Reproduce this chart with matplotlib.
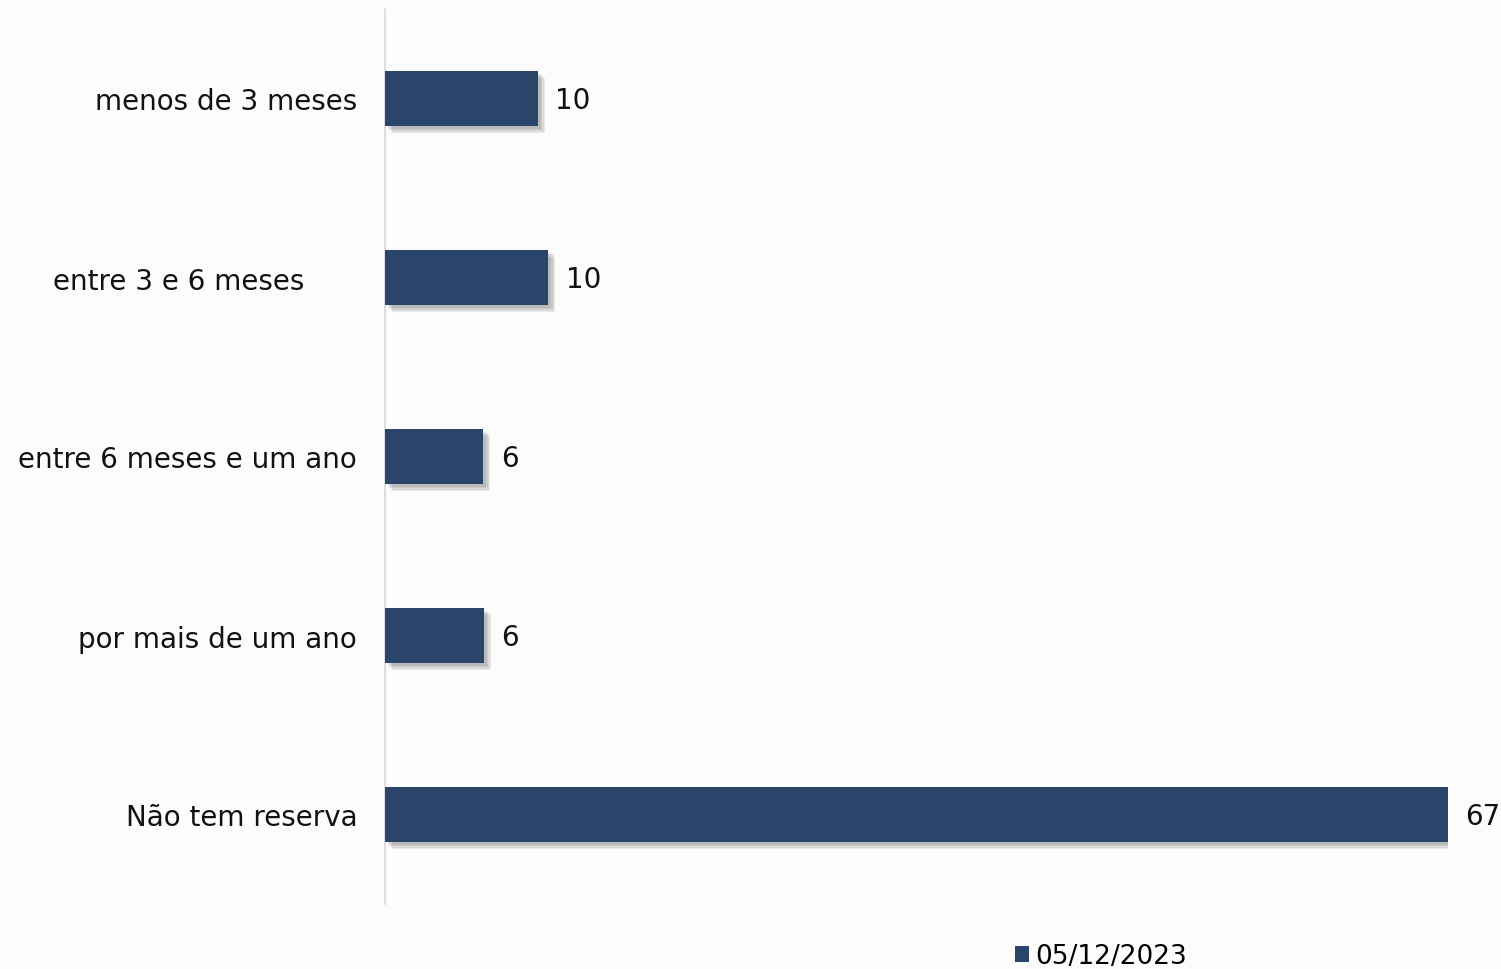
import matplotlib
matplotlib.use("Agg")
import matplotlib.pyplot as plt
import matplotlib.patheffects as pe
from matplotlib.patches import Patch

categories = ["menos de 3 meses", "entre 3 e 6 meses", "entre 6 meses e um ano",
              "por mais de um ano", "Não tem reserva"]
values = [9.65, 10.3, 6.2, 6.25, 67.0]
value_labels = ["10", "10", "6", "6", "67"]
series_name = "05/12/2023"

plt.rcParams['font.family'] = ['DejaVu Sans']

bar_color = "#2A4569"
bg = "#FCFCFC"
txt = "#111111"
fs = 20

fig = plt.figure(figsize=(15.01, 9.70), dpi=100, facecolor=bg)
ax = fig.add_axes([385/1501, 1 - 905/970, (1448 - 385)/1501, (905 - 10)/970])
ax.set_facecolor(bg)

y = list(range(len(categories)))
bars = ax.barh(y, values, height=0.31, color=bar_color, zorder=3)
shadow = [pe.SimplePatchShadow(offset=(k, -k), shadow_rgbFace="#000000", alpha=0.07)
          for k in (5, 4, 3, 2)]
for b in bars:
    b.set_path_effects(shadow + [pe.Normal()])

ax.set_ylim(len(categories) - 0.5, -0.5)
ax.set_xlim(0, 67.0)

ticklabels = list(categories)
ticklabels[1] = categories[1] + "      "
ax.set_yticks(y)
ax.set_yticklabels(ticklabels, fontsize=fs, color=txt)
ax.tick_params(axis='y', length=0, pad=20)
ax.set_xticks([])

for s in ["top", "right", "bottom"]:
    ax.spines[s].set_visible(False)
ax.spines["left"].set_color("#D9D9D9")
ax.spines["left"].set_linewidth(1.2)

for yi, v, lab in zip(y, values, value_labels):
    ax.annotate(lab, xy=(v, yi), xytext=(12.5, -1), textcoords="offset points",
                ha="left", va="center", fontsize=fs, color=txt, annotation_clip=False)

handles = [Patch(facecolor=bar_color, edgecolor="none", label=series_name)]
fig.legend(handles=handles, loc="center", bbox_to_anchor=(1101/1501, 1 - 957/970),
           frameon=False, fontsize=19, handlelength=0.55, handleheight=0.55,
           handletextpad=0.25, borderaxespad=0)

fig.savefig("out.png", dpi=100, facecolor=bg)
